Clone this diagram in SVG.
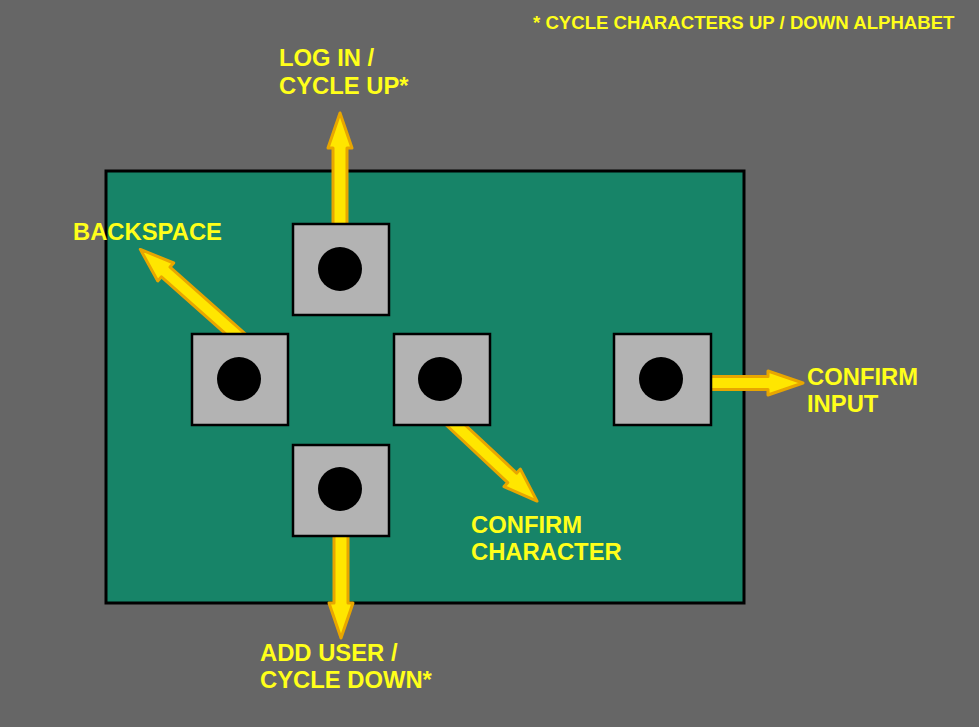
<svg xmlns="http://www.w3.org/2000/svg" width="979" height="727" viewBox="0 0 979 727">
<style>
.lbl{font-family:"Liberation Sans",Arial,sans-serif;font-weight:bold;fill:#ffff1a;font-size:23.8px}
.note{font-size:18.6px}
.btn{fill:#b3b3b3;stroke:#000;stroke-width:2.5}
.arr{fill:#ffe600;stroke:#e8a600;stroke-width:3;stroke-linejoin:round}
</style>
<rect width="979" height="727" fill="#666666"/>
<g id="board"><rect x="106" y="171" width="638" height="432" fill="#178468" stroke="#000" stroke-width="3"/></g>
<g id="connectors">
<path class="arr" transform="translate(340,240) rotate(-90)" d="M0,-7 L92,-7 L92,-12 L127,0 L92,12 L92,7 L0,7 Z"/>
<path class="arr" transform="translate(341,520) rotate(90)" d="M0,-7 L83,-7 L83,-12 L118,0 L83,12 L83,7 L0,7 Z"/>
<path class="arr" transform="translate(700,383)" d="M0,-6.5 L68,-6.5 L68,-12 L103,0 L68,12 L68,6.5 L0,6.5 Z"/>
<path class="arr" transform="translate(248,345) rotate(221.6)" d="M0,-6.5 L110,-6.5 L110,-12 L144,0 L110,12 L110,6.5 L0,6.5 Z"/>
<path class="arr" transform="translate(445,415) rotate(43.1)" d="M0,-6.5 L92,-6.5 L92,-12 L126,0 L92,12 L92,6.5 L0,6.5 Z"/>
</g>
<g id="btn-up"><rect class="btn" x="293" y="224" width="96" height="91"/><circle cx="340" cy="269" r="22"/></g>
<g id="btn-left"><rect class="btn" x="192" y="334" width="96" height="91"/><circle cx="239" cy="379" r="22"/></g>
<g id="btn-center"><rect class="btn" x="394" y="334" width="96" height="91"/><circle cx="440" cy="379" r="22"/></g>
<g id="btn-down"><rect class="btn" x="293" y="445" width="96" height="91"/><circle cx="340" cy="489" r="22"/></g>
<g id="btn-right"><rect class="btn" x="614" y="334" width="97" height="91"/><circle cx="661" cy="379" r="22"/></g>
<g id="label-note"><text class="lbl note" x="533" y="29">* CYCLE CHARACTERS UP / DOWN ALPHABET</text></g>
<g id="label-up"><text class="lbl" x="279" y="66">LOG IN /</text><text class="lbl" x="279" y="94">CYCLE UP*</text></g>
<g id="label-backspace"><text class="lbl" x="73" y="240">BACKSPACE</text></g>
<g id="label-input"><text class="lbl" x="807" y="385">CONFIRM</text><text class="lbl" x="807" y="412">INPUT</text></g>
<g id="label-char"><text class="lbl" x="471" y="533">CONFIRM</text><text class="lbl" x="471" y="560">CHARACTER</text></g>
<g id="label-down"><text class="lbl" x="260" y="661">ADD USER /</text><text class="lbl" x="260" y="688">CYCLE DOWN*</text></g>
</svg>
